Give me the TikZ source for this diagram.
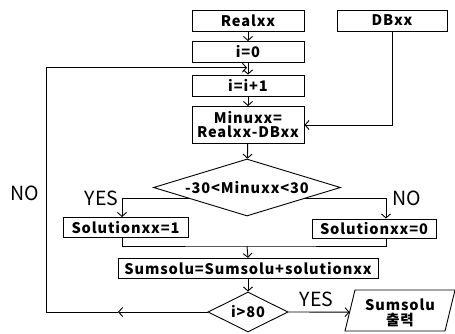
\documentclass[tikz,border=0pt]{standalone}
\usepackage{fontspec}
\setmainfont{Noto Sans CJK KR}
\newfontfamily\boxfont{Noto Sans CJK KR}[LetterSpace=6]
\usetikzlibrary{arrows.meta,shapes.geometric,calc}
\begin{document}
\begin{tikzpicture}[x=1pt,y=-1pt, line width=0.9pt,
  txt/.style={font=\boxfont\bfseries\fontsize{14.6}{16}\selectfont},
  box/.style={draw, rectangle, inner sep=0pt, txt, align=center},
  dia/.style={draw, diamond, inner sep=0pt, txt},
  arr/.style={-{Straight Barb[length=4pt,width=9pt]}},
  lbl/.style={font=\fontsize{19.5}{21}\selectfont, inner sep=0pt}]
\useasboundingbox (0,0) rectangle (455,334);
\node[box, minimum width=112pt, minimum height=21pt] (real) at (248,20.5) {Realxx};
\node[box, minimum width=110pt, minimum height=21pt] (db) at (392,20.5) {DBxx};
\node[box, minimum width=112pt, minimum height=21pt] (i0) at (248,52) {i=0};
\node[box, minimum width=112pt, minimum height=21pt] (ii1) at (248,85.5) {i=i+1};
\node[box, minimum width=112pt, minimum height=37pt] (minus) at (248,125) {Minuxx=\\[-2pt]Realxx-DBxx};
\node[dia, minimum width=187pt, minimum height=57pt, aspect=3.3] (d1) at (247,187.5) {-30<Minuxx<30};
\node[box, minimum width=125pt, minimum height=20pt] (sol1) at (125.5,227.5) {Solutionxx=1};
\node[box, minimum width=124pt, minimum height=19pt] (sol0) at (374,228.5) {Solutionxx=0};
\node[box, minimum width=260pt, minimum height=20pt] (sum) at (248,268.3) {Sumsolu=Sumsolu+solutionxx};
\node[dia, minimum width=80pt, minimum height=40pt, aspect=2] (d2) at (248,312) {i>80};
% parallelogram output
\coordinate (pTL) at (355,290);
\coordinate (pTR) at (455,290);
\coordinate (pBR) at (445,331);
\coordinate (pBL) at (345,331);
\draw (pTL) -- (pTR) -- (pBR) -- (pBL) -- cycle;
\node[txt, align=center, inner sep=0pt] (out) at (400,313) {Sumsolu\\[-1pt]출력};
\coordinate (pIn) at ($(pTL)!0.54!(pBL)$);
% labels
\node[lbl] (noL) at (25,193) {NO};
\node[lbl] (yesL) at (101.5,198) {YES};
\node[lbl] (noR) at (407,198) {NO};
\node[lbl] (yesB) at (316.5,299) {YES};
% connectors
\draw[arr] (real) -- (i0);
\draw[arr] (i0) -- (ii1);
\draw[arr] (ii1) -- (minus);
\draw[arr] (db.south) |- (minus.east);
\draw[arr] (minus) -- (d1);
\coordinate (yesS) at ($(d1.west)!0.39!(d1.south)$);
\coordinate (noS) at ($(d1.east)!0.39!(d1.south)$);
\coordinate (s1t) at ([xshift=-3.5pt]sol1.north);
\coordinate (s1b) at ([xshift=-3.5pt]sol1.south);
\coordinate (s0t) at ([xshift=12pt]sol0.north);
\coordinate (s0b) at ([xshift=12pt]sol0.south);
\draw[arr] (yesS) -| (s1t);
\draw[arr] (noS) -| (s0t);
\coordinate (merge) at (247,246);
\draw (s1b) |- (merge) -| (s0b);
\draw[arr] (merge) -- (sum.north);
\draw[arr] (sum) -- (d2);
\draw[arr] (d2.east) -- (pIn);
\coordinate (noArr) at (118,312);
\coordinate (loopBL) at (46.7,312);
\coordinate (loopTop) at (247,67.7);
\draw[arr] (d2.west) -- (noArr);
\draw[arr] (noArr) -- (loopBL) |- (loopTop);
\end{tikzpicture}
\end{document}
